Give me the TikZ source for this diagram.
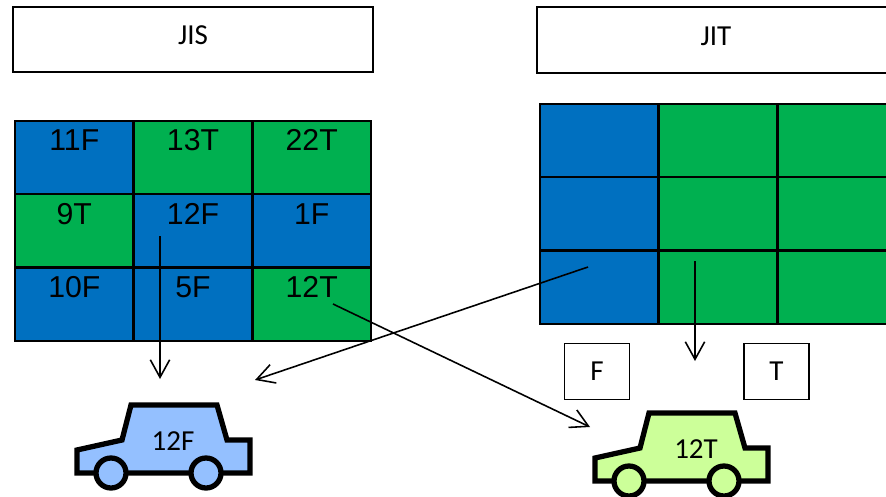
\documentclass[tikz,border=0pt]{standalone}
\usepackage{fontspec}
\setmainfont{Carlito}
\newfontfamily\cellfont{Liberation Sans}
\usetikzlibrary{arrows.meta}
\definecolor{cellblue}{HTML}{0070C0}
\definecolor{cellgreen}{HTML}{00B050}
\definecolor{carblue}{HTML}{94C0FF}
\definecolor{cargreen}{HTML}{CCFF99}

\begin{document}
\begin{tikzpicture}[x=0.02cm, y=-0.02cm]
    % styles
    \tikzstyle{cell}=[rectangle, draw=black, line width=1.1pt, inner sep=0pt, outer sep=0pt, minimum width=67.3pt, minimum height=41.6pt, text height=16.9pt, text depth=24.7pt, font=\cellfont\fontsize{17.2}{20}\selectfont]
    \tikzstyle{headbox}=[rectangle, draw=black, line width=0.9pt, fill=white, inner sep=0pt, outer sep=0pt, text height=10pt, text depth=4pt, font=\fontsize{16.5}{18}\selectfont]
    \tikzstyle{flagbox}=[rectangle, draw=black, line width=0.9pt, fill=white, inner sep=0pt, outer sep=0pt, minimum width=36.8pt, minimum height=31.7pt, font=\fontsize{16.5}{18}\selectfont]
    \tikzstyle{carline}=[draw=black, line width=3pt, miter limit=4]
    \tikzstyle{flow}=[-{Straight Barb[length=10pt, width=11pt]}, line width=0.9pt]

    \path[use as bounding box, clip] (0,0) rectangle (886,497);

    % top boxes
    \node[headbox, minimum width=204.6pt, minimum height=36.8pt] (jis) at (193,39.5) {JIS};
    \node[headbox, minimum width=204pt, minimum height=37.4pt] (jit) at (716,40) {JIT};

    % left grid
    \foreach \n/\c/\r/\col/\txt in {
        a1/0/0/cellblue/11F, a2/1/0/cellgreen/13T, a3/2/0/cellgreen/22T,
        a4/0/1/cellgreen/9T, a5/1/1/cellblue/12F, a6/2/1/cellblue/1F,
        a7/0/2/cellblue/10F, a8/1/2/cellblue/5F, a9/2/2/cellgreen/12T} {
        \node[cell, fill=\col] (\n) at ({74.3+118.7*\c},{157.6+73.3*\r}) {\txt};
    }

    % right grid
    \foreach \n/\c/\r/\col in {
        b1/0/0/cellblue, b2/1/0/cellgreen, b3/2/0/cellgreen,
        b4/0/1/cellblue, b5/1/1/cellgreen, b6/2/1/cellgreen,
        b7/0/2/cellblue, b8/1/2/cellgreen, b9/2/2/cellgreen} {
        \node[cell, fill=\col] (\n) at ({599.3+118.7*\c},{140.6+73.3*\r}) {};
    }

    % F and T
    \node[flagbox] (fbox) at (597,371.5) {F};
    \node[flagbox] (tbox) at (776.5,371.5) {T};

    % cars
    \foreach \dx/\dy/\tx/\col/\nm/\txt in {0/0/173/carblue/carf/12F, 518/8/178/cargreen/cart/12T} {
        \begin{scope}[shift={(\dx,\dy)}]
            \draw[carline, fill=\col] (77,450) -- (122,440) -- (131,405) -- (217,405) -- (227,440) -- (250,440) -- (250,473) -- (77,473) -- cycle;
            \draw[carline, fill=\col] (111,473) circle (15);
            \draw[carline, fill=\col] (206,473) circle (15);
            \node[inner sep=0pt, font=\fontsize{16.5}{18}\selectfont] (\nm) at (\tx,441.5) {\txt};
        \end{scope}
    }

    % arrows
    \coordinate (s1) at (160,236);
    \coordinate (e1) at (160,379);
    \coordinate (s2) at (588,267);
    \coordinate (e2) at (255,380);
    \coordinate (s3) at (333,304);
    \coordinate (e3) at (590,427);
    \coordinate (s4) at (695,261);
    \coordinate (e4) at (695,361);
    \draw[flow] (s1) -- (e1);
    \draw[flow] (s2) -- (e2);
    \draw[flow] (s3) -- (e3);
    \draw[flow] (s4) -- (e4);
\end{tikzpicture}
\end{document}
